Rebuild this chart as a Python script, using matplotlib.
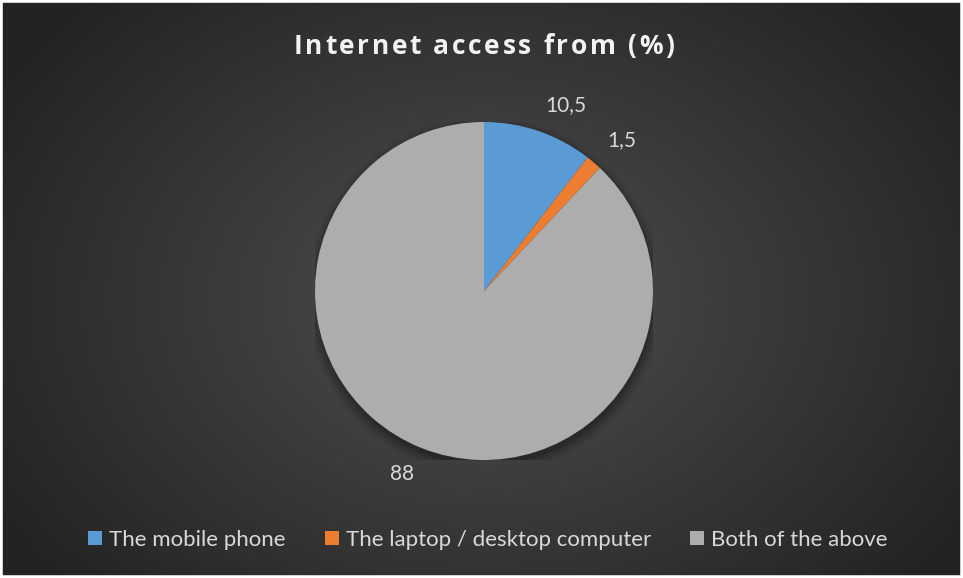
import numpy as np
import matplotlib.pyplot as plt
from matplotlib.patches import Circle, Rectangle
from matplotlib.font_manager import FontProperties, findfont
from matplotlib.ft2font import FT2Font

labels = ["The mobile phone", "The laptop / desktop computer", "Both of the above"]
values = [10.5, 1.5, 88]
value_text = ["10,5", "1,5", "88"]
colors = ["#5b9bd5", "#ed7d31", "#adadad"]
title = "Internet access from (%)"

W, H = 963, 578
fig = plt.figure(figsize=(W / 100, H / 100), dpi=100)


def spaced_text(x_px, y_px, s, size, tracking_px, **kw):
    """Draw s centred at (x_px, y_px) with extra space between letters."""
    prop = FontProperties(family="Open Sans", weight="bold", size=size)
    font = FT2Font(findfont(prop))
    font.set_size(size, 100)
    adv = [font.load_char(ord(c)).linearHoriAdvance / 65536 for c in s]
    total = sum(adv) + tracking_px * (len(s) - 1)
    x = x_px - total / 2
    for c, a in zip(s, adv):
        fig.text(x / W, 1 - y_px / H, c, ha="left", va="center",
                 fontproperties=prop, **kw)
        x += a + tracking_px


# radial gradient background
bg = fig.add_axes([0, 0, 1, 1])
yy, xx = np.mgrid[0:H, 0:W]
d = np.sqrt(((xx - 484) / 560) ** 2 + ((yy - 300) / 420) ** 2)
shade = np.clip(0.31 - 0.17 * d, 0.14, 0.31)
bg.imshow(np.dstack([shade] * 3), extent=[0, 1, 0, 1], aspect="auto")
bg.add_patch(Rectangle((0, 0), 1, 1, fill=False, edgecolor="white", lw=4,
                       transform=bg.transAxes))
bg.set_axis_off()

# pie
R = 169
ax = fig.add_axes([(484 - R) / W, (H - 291 - R) / H, 2 * R / W, 2 * R / H])
for k, a in enumerate(np.linspace(0.10, 0.02, 6)):
    ax.add_patch(Circle((0.005, -0.03), 1.0 + 0.012 * k, color="black",
                        alpha=a, zorder=0, lw=0))
wedges, _ = ax.pie(values, colors=colors, startangle=90, counterclock=False,
                   radius=1.0, wedgeprops=dict(linewidth=0))

# value labels just outside each slice
for w, txt in zip(wedges, value_text):
    mid = np.deg2rad((w.theta1 + w.theta2) / 2)
    cx, cy = 1.12 * np.cos(mid), 1.10 * np.sin(mid)
    ax.text(cx, cy, txt, ha="left" if cx > 0 else "right",
            va="bottom" if cy > 0 else "top", color="#d9d9d9",
            fontsize=15, family="Lato", clip_on=False)
ax.set_xlim(-1, 1)
ax.set_ylim(-1, 1)
ax.set_aspect("equal")
ax.set_axis_off()

spaced_text(484, 46, title, 19, 2.6, color="#f2f2f2")

leg = fig.legend(wedges, labels, loc="center", bbox_to_anchor=(488 / W, 1 - 540 / H),
                 ncol=3, frameon=False, handlelength=0.62,
                 handleheight=0.62, handletextpad=0.33, columnspacing=1.75,
                 prop=dict(family="Lato", size=16))
for t in leg.get_texts():
    t.set_color("#d9d9d9")

fig.savefig("out.png", dpi=100)
